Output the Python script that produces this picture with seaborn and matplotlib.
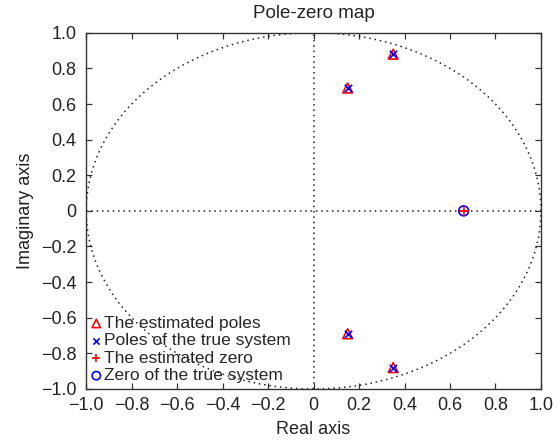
import numpy as np
import pandas as pd
import seaborn as sns
import matplotlib
matplotlib.use("Agg")
import matplotlib.pyplot as plt
from matplotlib.ticker import FuncFormatter

# Estimated and true poles / zeros (real, imaginary parts)
est_pole_re = [0.15, 0.15, 0.35, 0.35]
est_pole_im = [0.69, -0.69, 0.88, -0.88]
true_pole_re = [0.15, 0.15, 0.35, 0.35]
true_pole_im = [0.69, -0.69, 0.88, -0.88]
est_zero_re = [0.66]
est_zero_im = [0.0]
true_zero_re = [0.66]
true_zero_im = [0.0]

ticks = [-1.0, -0.8, -0.6, -0.4, -0.2, 0.0, 0.2, 0.4, 0.6, 0.8, 1.0]

sns.set_theme(style="white")
plt.rcParams["font.family"] = ["Liberation Sans", "DejaVu Sans"]

fig = plt.figure(figsize=(5.6, 4.43), dpi=100)
ax = fig.add_axes([0.154, 0.122, 0.812, 0.804])

# Unit circle and axes crosshair
dots = (0, (1, 2.5))
th = np.linspace(0, 2 * np.pi, 400)
ax.plot(np.cos(th), np.sin(th), ls=dots, color="#222222", lw=1.1)
ax.axhline(0, ls=dots, color="#222222", lw=1.1)
ax.axvline(0, ls=dots, color="#222222", lw=1.1)

sns.scatterplot(x=est_pole_re, y=est_pole_im, ax=ax, marker="^", s=50,
                facecolors="none", edgecolor="red", linewidth=1.2,
                label="The estimated poles", zorder=3)
sns.scatterplot(x=true_pole_re, y=true_pole_im, ax=ax, marker="x", s=28,
                color="blue", linewidth=1.2,
                label="Poles of the true system", zorder=4)
sns.scatterplot(x=est_zero_re, y=est_zero_im, ax=ax, marker="+", s=50,
                color="red", linewidth=1.2,
                label="The estimated zero", zorder=4)
sns.scatterplot(x=true_zero_re, y=true_zero_im, ax=ax, marker="o", s=50,
                facecolors="none", edgecolor="blue", linewidth=1.2,
                label="Zero of the true system", zorder=3)

ax.set_xlim(-1, 1)
ax.set_ylim(-1, 1)
ax.set_xticks(ticks)
ax.set_yticks(ticks)
fmt = FuncFormatter(lambda v, p: "0" if abs(v) < 1e-9 else f"{v:.1f}".replace("-", "\u2212"))
ax.xaxis.set_major_formatter(fmt)
ax.yaxis.set_major_formatter(fmt)
ax.tick_params(axis="both", which="both", direction="in", top=True, right=True,
               bottom=True, left=True, length=4, width=0.9, labelsize=13,
               color="#333333", labelcolor="#222222")
ax.tick_params(axis="x", pad=6)
ax.tick_params(axis="y", pad=7)
for s in ax.spines.values():
    s.set_color("#333333")
    s.set_linewidth(1.0)

ax.set_title("Pole-zero map", fontsize=13.5, color="#222222", pad=11)
ax.set_xlabel("Real axis", fontsize=13, color="#222222", labelpad=5)
ax.set_ylabel("Imaginary axis", fontsize=13, color="#222222", labelpad=5)

leg = ax.legend(loc="lower left", frameon=False, fontsize=12.5,
                handletextpad=0.2, handlelength=0.5, borderaxespad=0.1,
                labelspacing=0.13, borderpad=0.23, markerscale=0.85)

fig.savefig("out.png", dpi=100)
